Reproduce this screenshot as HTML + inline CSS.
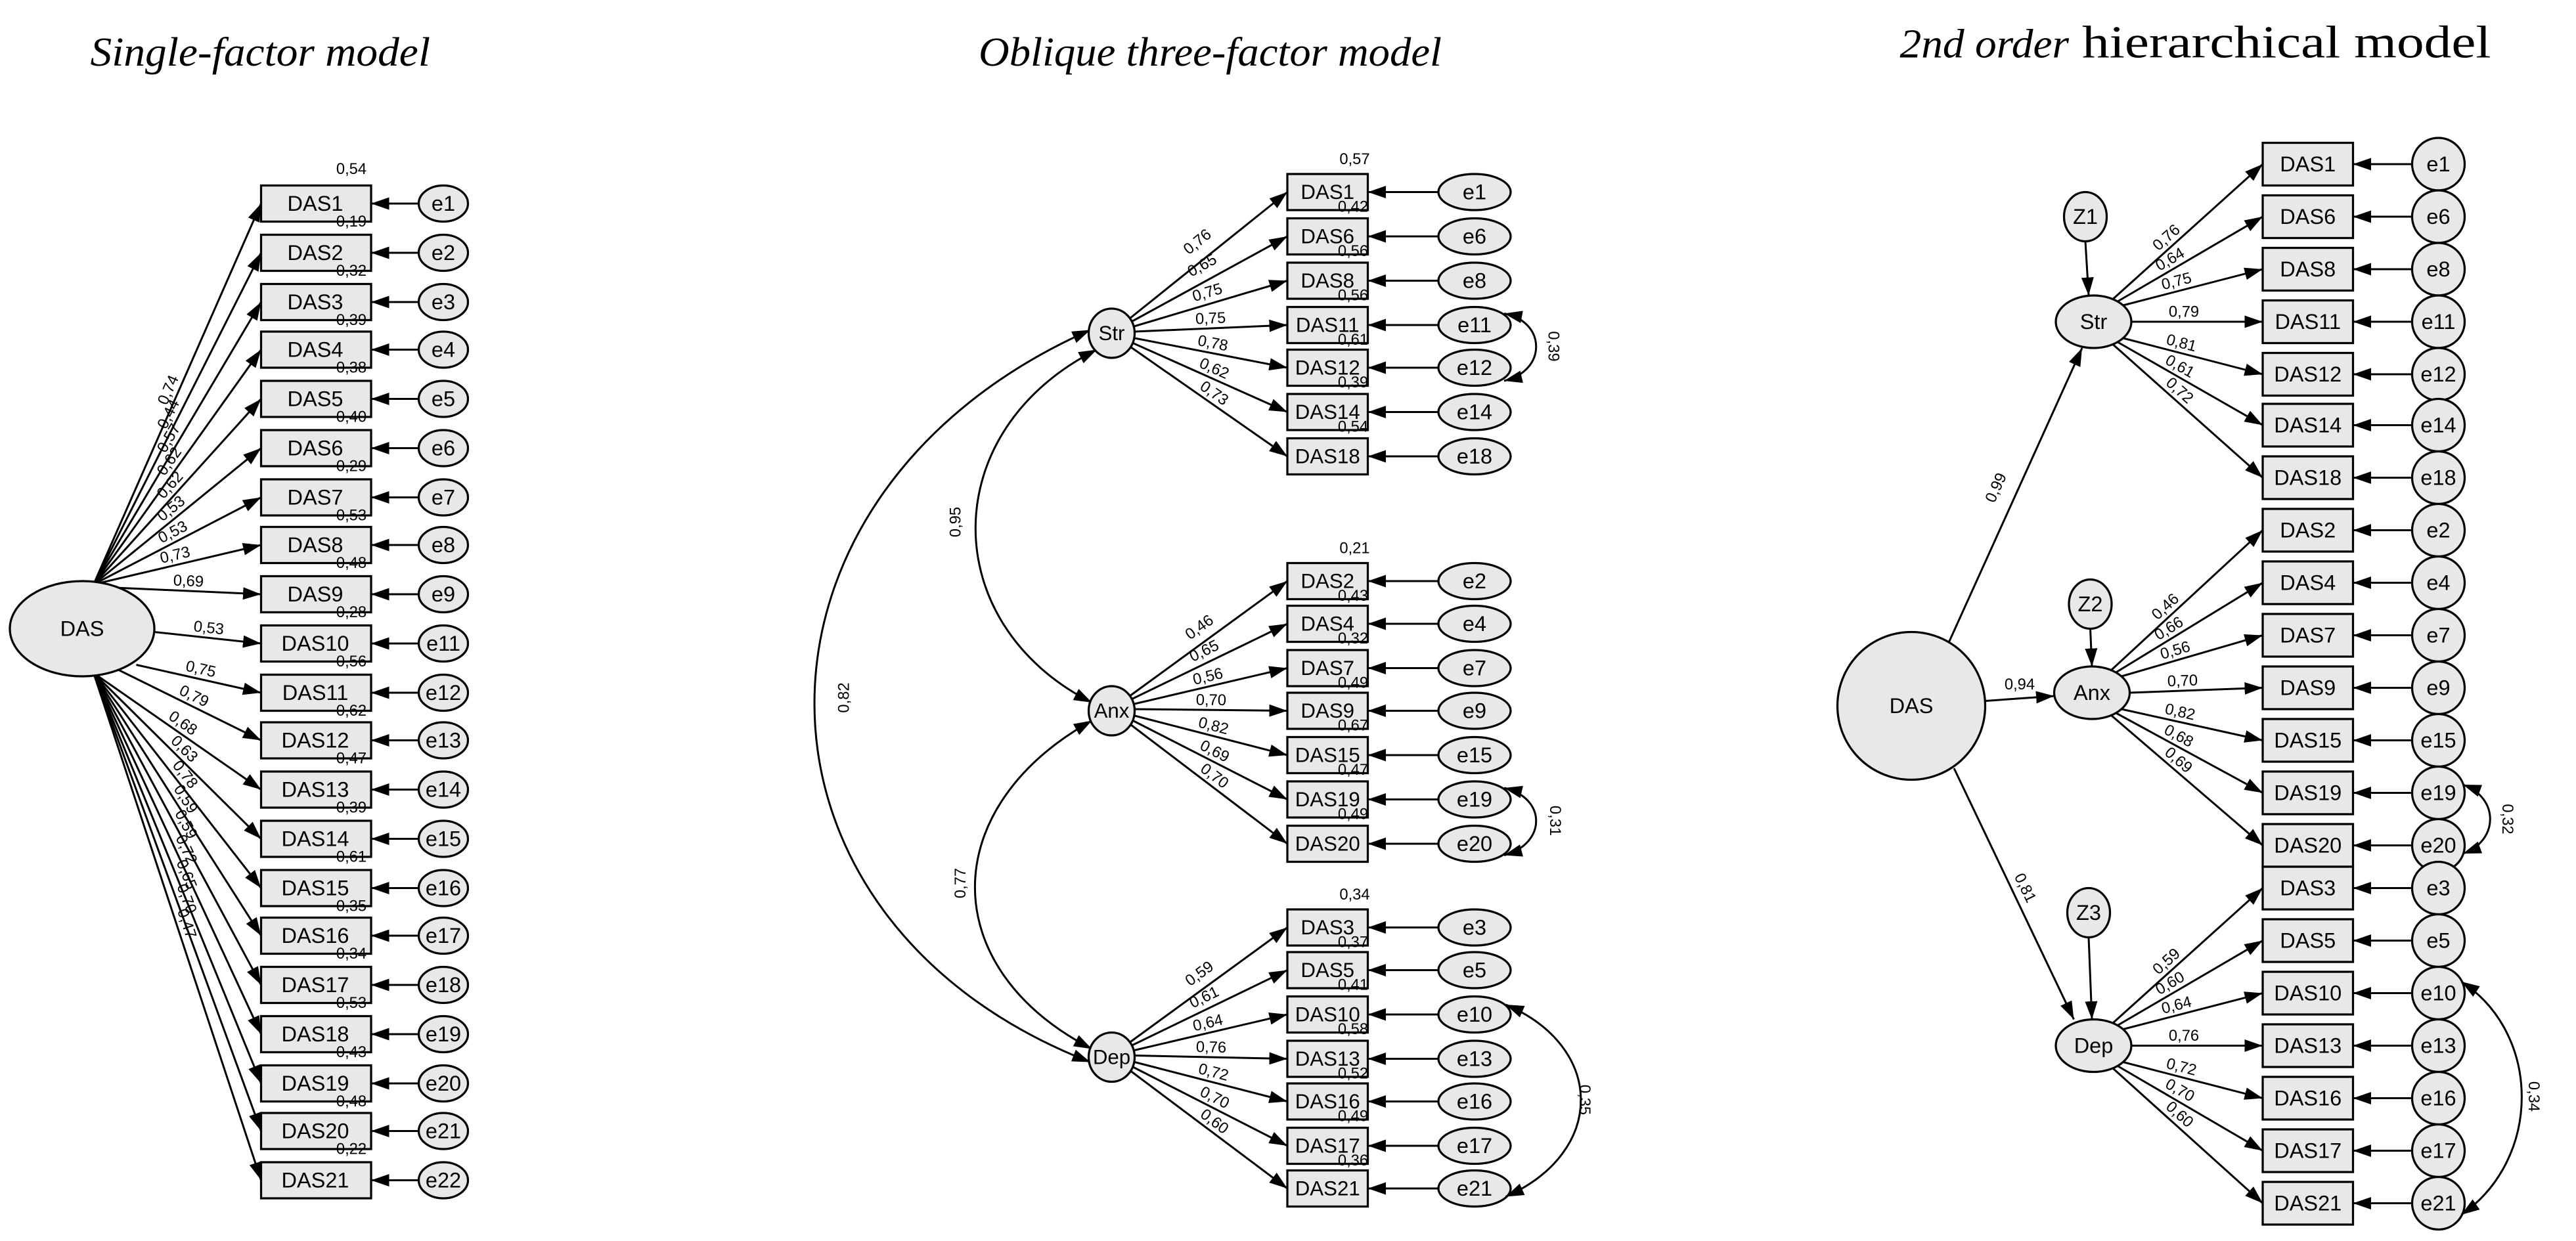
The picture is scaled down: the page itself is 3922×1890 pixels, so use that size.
<!DOCTYPE html>
<html><head><meta charset="utf-8"><style>
html,body{margin:0;padding:0;background:#fff;}
svg{display:block;}
text{font-family:"Liberation Sans",sans-serif;fill:#000;}
.t{font-family:"Liberation Serif",serif;}
.b{fill:#e8e8e8;stroke:#000;stroke-width:1.3;}
.l{stroke:#000;stroke-width:1.2;fill:none;}
.n{font-size:13px;text-anchor:middle;dominant-baseline:central;}
.n2{font-size:12.5px;text-anchor:middle;dominant-baseline:central;}
.v{font-size:9.5px;text-anchor:middle;}
</style></head><body>
<svg width="3922" height="1890" viewBox="0 0 1568.8 756" xmlns="http://www.w3.org/2000/svg">
<defs>
<marker id="a" markerUnits="userSpaceOnUse" markerWidth="12" markerHeight="8" refX="11" refY="3.8" orient="auto"><path d="M0,0 L11,3.8 L0,7.6 z" fill="#000"/></marker>
<marker id="s" markerUnits="userSpaceOnUse" markerWidth="12" markerHeight="8" refX="11" refY="3.8" orient="auto-start-reverse"><path d="M0,0 L11,3.8 L0,7.6 z" fill="#000"/></marker>
</defs>
<rect width="1568.8" height="756" fill="#fff"/>

<!-- Titles -->
<text class="t" x="55" y="40" font-size="25" font-style="italic" textLength="207" lengthAdjust="spacingAndGlyphs">Single-factor model</text>
<text class="t" x="596" y="40" font-size="25" font-style="italic" textLength="282" lengthAdjust="spacingAndGlyphs">Oblique three-factor model</text>
<text class="t" x="1157" y="35" font-size="25" font-style="italic" textLength="103" lengthAdjust="spacingAndGlyphs">2nd order</text>
<text class="t" x="1268" y="35" font-size="28" textLength="249" lengthAdjust="spacingAndGlyphs">hierarchical model</text>

<!-- ============ PANEL 1 ============ -->
<g>
<line class="l" x1="57" y1="356" x2="159" y2="124" marker-end="url(#a)"/>
<line class="l" x1="57" y1="356" x2="159" y2="154" marker-end="url(#a)"/>
<line class="l" x1="57" y1="356" x2="159" y2="184" marker-end="url(#a)"/>
<line class="l" x1="57" y1="356" x2="159" y2="213" marker-end="url(#a)"/>
<line class="l" x1="57" y1="356" x2="159" y2="243" marker-end="url(#a)"/>
<line class="l" x1="57" y1="356" x2="159" y2="273" marker-end="url(#a)"/>
<line class="l" x1="57" y1="356" x2="159" y2="303" marker-end="url(#a)"/>
<line class="l" x1="57" y1="356" x2="159" y2="332" marker-end="url(#a)"/>
<line class="l" x1="70" y1="358" x2="159" y2="362" marker-end="url(#a)"/>
<line class="l" x1="94" y1="385" x2="159" y2="392" marker-end="url(#a)"/>
<line class="l" x1="83" y1="405" x2="159" y2="422" marker-end="url(#a)"/>
<line class="l" x1="72" y1="408" x2="159" y2="451" marker-end="url(#a)"/>
<line class="l" x1="57" y1="410" x2="159" y2="481" marker-end="url(#a)"/>
<line class="l" x1="57" y1="410" x2="159" y2="511" marker-end="url(#a)"/>
<line class="l" x1="57" y1="410" x2="159" y2="541" marker-end="url(#a)"/>
<line class="l" x1="57" y1="410" x2="159" y2="570" marker-end="url(#a)"/>
<line class="l" x1="57" y1="410" x2="159" y2="600" marker-end="url(#a)"/>
<line class="l" x1="57" y1="410" x2="159" y2="630" marker-end="url(#a)"/>
<line class="l" x1="57" y1="410" x2="159" y2="660" marker-end="url(#a)"/>
<line class="l" x1="57" y1="410" x2="159" y2="689" marker-end="url(#a)"/>
<line class="l" x1="57" y1="410" x2="159" y2="719" marker-end="url(#a)"/>
<ellipse class="b" cx="50" cy="383" rx="44" ry="29"/>
<text class="n" x="50" y="383">DAS</text>
<!-- loadings -->
<g class="v" font-size="9.5">
<text class="v" transform="translate(108,240) rotate(-66.3)" y="-3">0,74</text>
<text class="v" transform="translate(108,255) rotate(-63.2)" y="-3">0,44</text>
<text class="v" transform="translate(108,270) rotate(-59.3)" y="-3">0,57</text>
<text class="v" transform="translate(108,284.5) rotate(-54.5)" y="-3">0,62</text>
<text class="v" transform="translate(108,299.5) rotate(-47.9)" y="-3">0,62</text>
<text class="v" transform="translate(108,314.5) rotate(-39.1)" y="-3">0,53</text>
<text class="v" transform="translate(108,329.5) rotate(-27.5)" y="-3">0,53</text>
<text class="v" transform="translate(108,344) rotate(-13.2)" y="-3">0,73</text>
<text class="v" transform="translate(114.5,360) rotate(2.6)" y="-3">0,69</text>
<text class="v" transform="translate(126.5,388.5) rotate(6.1)" y="-3">0,53</text>
<text class="v" transform="translate(121,413.5) rotate(12.6)" y="-3">0,75</text>
<text class="v" transform="translate(115.5,429.5) rotate(26.3)" y="-3">0,79</text>
<text class="v" transform="translate(108,445.5) rotate(34.8)" y="-3">0,68</text>
<text class="v" transform="translate(108,460.5) rotate(44.7)" y="-3">0,63</text>
<text class="v" transform="translate(108,475.5) rotate(52.1)" y="-3">0,78</text>
<text class="v" transform="translate(108,490) rotate(57.5)" y="-3">0,59</text>
<text class="v" transform="translate(108,505) rotate(61.8)" y="-3">0,59</text>
<text class="v" transform="translate(108,520) rotate(65.1)" y="-3">0,72</text>
<text class="v" transform="translate(108,535) rotate(67.8)" y="-3">0,65</text>
<text class="v" transform="translate(108,549.5) rotate(69.9)" y="-3">0,70</text>
<text class="v" transform="translate(108,564.5) rotate(71.7)" y="-3">0,47</text>
</g>
<!-- boxes -->
<g>
<rect class="b" x="159" y="113" width="67" height="22"/><text class="n" x="192" y="124">DAS1</text>
<rect class="b" x="159" y="143" width="67" height="22"/><text class="n" x="192" y="154">DAS2</text>
<rect class="b" x="159" y="173" width="67" height="22"/><text class="n" x="192" y="184">DAS3</text>
<rect class="b" x="159" y="202" width="67" height="22"/><text class="n" x="192" y="213">DAS4</text>
<rect class="b" x="159" y="232" width="67" height="22"/><text class="n" x="192" y="243">DAS5</text>
<rect class="b" x="159" y="262" width="67" height="22"/><text class="n" x="192" y="273">DAS6</text>
<rect class="b" x="159" y="292" width="67" height="22"/><text class="n" x="192" y="303">DAS7</text>
<rect class="b" x="159" y="321" width="67" height="22"/><text class="n" x="192" y="332">DAS8</text>
<rect class="b" x="159" y="351" width="67" height="22"/><text class="n" x="192" y="362">DAS9</text>
<rect class="b" x="159" y="381" width="67" height="22"/><text class="n" x="192" y="392">DAS10</text>
<rect class="b" x="159" y="411" width="67" height="22"/><text class="n" x="192" y="422">DAS11</text>
<rect class="b" x="159" y="440" width="67" height="22"/><text class="n" x="192" y="451">DAS12</text>
<rect class="b" x="159" y="470" width="67" height="22"/><text class="n" x="192" y="481">DAS13</text>
<rect class="b" x="159" y="500" width="67" height="22"/><text class="n" x="192" y="511">DAS14</text>
<rect class="b" x="159" y="530" width="67" height="22"/><text class="n" x="192" y="541">DAS15</text>
<rect class="b" x="159" y="559" width="67" height="22"/><text class="n" x="192" y="570">DAS16</text>
<rect class="b" x="159" y="589" width="67" height="22"/><text class="n" x="192" y="600">DAS17</text>
<rect class="b" x="159" y="619" width="67" height="22"/><text class="n" x="192" y="630">DAS18</text>
<rect class="b" x="159" y="649" width="67" height="22"/><text class="n" x="192" y="660">DAS19</text>
<rect class="b" x="159" y="678" width="67" height="22"/><text class="n" x="192" y="689">DAS20</text>
<rect class="b" x="159" y="708" width="67" height="22"/><text class="n" x="192" y="719">DAS21</text>
</g>
<!-- residuals -->
<text class="v" x="214" y="106">0,54</text>
<text class="v" x="214" y="138">0,19</text>
<text class="v" x="214" y="168">0,32</text>
<text class="v" x="214" y="198">0,39</text>
<text class="v" x="214" y="227">0,38</text>
<text class="v" x="214" y="257">0,40</text>
<text class="v" x="214" y="287">0,29</text>
<text class="v" x="214" y="317">0,53</text>
<text class="v" x="214" y="346">0,48</text>
<text class="v" x="214" y="376">0,28</text>
<text class="v" x="214" y="406">0,56</text>
<text class="v" x="214" y="436">0,62</text>
<text class="v" x="214" y="465">0,47</text>
<text class="v" x="214" y="495">0,39</text>
<text class="v" x="214" y="525">0,61</text>
<text class="v" x="214" y="555">0,35</text>
<text class="v" x="214" y="584">0,34</text>
<text class="v" x="214" y="614">0,53</text>
<text class="v" x="214" y="644">0,43</text>
<text class="v" x="214" y="674">0,48</text>
<text class="v" x="214" y="703">0,22</text>
<!-- errors -->
<g>
<line class="l" x1="255" y1="124" x2="226" y2="124" marker-end="url(#a)"/><ellipse class="b" cx="270" cy="124" rx="15" ry="11"/><text class="n" x="270" y="124">e1</text>
<line class="l" x1="255" y1="154" x2="226" y2="154" marker-end="url(#a)"/><ellipse class="b" cx="270" cy="154" rx="15" ry="11"/><text class="n" x="270" y="154">e2</text>
<line class="l" x1="255" y1="184" x2="226" y2="184" marker-end="url(#a)"/><ellipse class="b" cx="270" cy="184" rx="15" ry="11"/><text class="n" x="270" y="184">e3</text>
<line class="l" x1="255" y1="213" x2="226" y2="213" marker-end="url(#a)"/><ellipse class="b" cx="270" cy="213" rx="15" ry="11"/><text class="n" x="270" y="213">e4</text>
<line class="l" x1="255" y1="243" x2="226" y2="243" marker-end="url(#a)"/><ellipse class="b" cx="270" cy="243" rx="15" ry="11"/><text class="n" x="270" y="243">e5</text>
<line class="l" x1="255" y1="273" x2="226" y2="273" marker-end="url(#a)"/><ellipse class="b" cx="270" cy="273" rx="15" ry="11"/><text class="n" x="270" y="273">e6</text>
<line class="l" x1="255" y1="303" x2="226" y2="303" marker-end="url(#a)"/><ellipse class="b" cx="270" cy="303" rx="15" ry="11"/><text class="n" x="270" y="303">e7</text>
<line class="l" x1="255" y1="332" x2="226" y2="332" marker-end="url(#a)"/><ellipse class="b" cx="270" cy="332" rx="15" ry="11"/><text class="n" x="270" y="332">e8</text>
<line class="l" x1="255" y1="362" x2="226" y2="362" marker-end="url(#a)"/><ellipse class="b" cx="270" cy="362" rx="15" ry="11"/><text class="n" x="270" y="362">e9</text>
<line class="l" x1="255" y1="392" x2="226" y2="392" marker-end="url(#a)"/><ellipse class="b" cx="270" cy="392" rx="15" ry="11"/><text class="n" x="270" y="392">e11</text>
<line class="l" x1="255" y1="422" x2="226" y2="422" marker-end="url(#a)"/><ellipse class="b" cx="270" cy="422" rx="15" ry="11"/><text class="n" x="270" y="422">e12</text>
<line class="l" x1="255" y1="451" x2="226" y2="451" marker-end="url(#a)"/><ellipse class="b" cx="270" cy="451" rx="15" ry="11"/><text class="n" x="270" y="451">e13</text>
<line class="l" x1="255" y1="481" x2="226" y2="481" marker-end="url(#a)"/><ellipse class="b" cx="270" cy="481" rx="15" ry="11"/><text class="n" x="270" y="481">e14</text>
<line class="l" x1="255" y1="511" x2="226" y2="511" marker-end="url(#a)"/><ellipse class="b" cx="270" cy="511" rx="15" ry="11"/><text class="n" x="270" y="511">e15</text>
<line class="l" x1="255" y1="541" x2="226" y2="541" marker-end="url(#a)"/><ellipse class="b" cx="270" cy="541" rx="15" ry="11"/><text class="n" x="270" y="541">e16</text>
<line class="l" x1="255" y1="570" x2="226" y2="570" marker-end="url(#a)"/><ellipse class="b" cx="270" cy="570" rx="15" ry="11"/><text class="n" x="270" y="570">e17</text>
<line class="l" x1="255" y1="600" x2="226" y2="600" marker-end="url(#a)"/><ellipse class="b" cx="270" cy="600" rx="15" ry="11"/><text class="n" x="270" y="600">e18</text>
<line class="l" x1="255" y1="630" x2="226" y2="630" marker-end="url(#a)"/><ellipse class="b" cx="270" cy="630" rx="15" ry="11"/><text class="n" x="270" y="630">e19</text>
<line class="l" x1="255" y1="660" x2="226" y2="660" marker-end="url(#a)"/><ellipse class="b" cx="270" cy="660" rx="15" ry="11"/><text class="n" x="270" y="660">e20</text>
<line class="l" x1="255" y1="689" x2="226" y2="689" marker-end="url(#a)"/><ellipse class="b" cx="270" cy="689" rx="15" ry="11"/><text class="n" x="270" y="689">e21</text>
<line class="l" x1="255" y1="719" x2="226" y2="719" marker-end="url(#a)"/><ellipse class="b" cx="270" cy="719" rx="15" ry="11"/><text class="n" x="270" y="719">e22</text>
</g>
</g>

<!-- ============ PANEL 2 ============ -->
<g>
<!-- factor covariances -->
<path class="l" d="M668,213 C570,262 570,380 665,428" marker-start="url(#s)" marker-end="url(#s)"/>
<path class="l" d="M665,439 C570,492 570,590 665,639" marker-start="url(#s)" marker-end="url(#s)"/>
<path class="l" d="M664,201 C440,300 440,560 664,647" marker-start="url(#s)" marker-end="url(#s)"/>
<text class="v" transform="translate(585,318) rotate(-90)">0,95</text>
<text class="v" transform="translate(588,538) rotate(-90)">0,77</text>
<text class="v" transform="translate(517,425) rotate(-90)">0,82</text>
<!-- loadings Str -->
<line class="l" x1="688" y1="194" x2="784" y2="117" marker-end="url(#a)"/>
<line class="l" x1="689" y1="196" x2="784" y2="144" marker-end="url(#a)"/>
<line class="l" x1="690" y1="199" x2="784" y2="171" marker-end="url(#a)"/>
<line class="l" x1="691" y1="202" x2="784" y2="198" marker-end="url(#a)"/>
<line class="l" x1="691" y1="206" x2="784" y2="224" marker-end="url(#a)"/>
<line class="l" x1="690" y1="209" x2="784" y2="251" marker-end="url(#a)"/>
<line class="l" x1="688" y1="211" x2="784" y2="278" marker-end="url(#a)"/>
<text class="v" transform="translate(733,152) rotate(-38.7)" y="-3">0,76</text>
<text class="v" transform="translate(735,167) rotate(-28.7)" y="-3">0,65</text>
<text class="v" transform="translate(737,184) rotate(-16.6)" y="-3">0,75</text>
<text class="v" transform="translate(737.5,200) rotate(-2.5)" y="-3">0,75</text>
<text class="v" transform="translate(737.5,215) rotate(11)" y="-3">0,78</text>
<text class="v" transform="translate(737,230) rotate(24)" y="-3">0,62</text>
<text class="v" transform="translate(736,244.5) rotate(34.9)" y="-3">0,73</text>
<!-- loadings Anx -->
<line class="l" x1="688" y1="424" x2="784" y2="354" marker-end="url(#a)"/>
<line class="l" x1="689" y1="426" x2="784" y2="380" marker-end="url(#a)"/>
<line class="l" x1="690" y1="429" x2="784" y2="407" marker-end="url(#a)"/>
<line class="l" x1="691" y1="432" x2="784" y2="433" marker-end="url(#a)"/>
<line class="l" x1="691" y1="436" x2="784" y2="460" marker-end="url(#a)"/>
<line class="l" x1="690" y1="439" x2="784" y2="487" marker-end="url(#a)"/>
<line class="l" x1="688" y1="441" x2="784" y2="514" marker-end="url(#a)"/>
<text class="v" transform="translate(734,387) rotate(-36.1)" y="-3">0,46</text>
<text class="v" transform="translate(736,402) rotate(-25.8)" y="-3">0,65</text>
<text class="v" transform="translate(737,418) rotate(-13.2)" y="-3">0,56</text>
<text class="v" transform="translate(737.5,432.5) rotate(0.6)" y="-3">0,70</text>
<text class="v" transform="translate(737.5,448) rotate(14.5)" y="-3">0,82</text>
<text class="v" transform="translate(737,463) rotate(27)" y="-3">0,69</text>
<text class="v" transform="translate(736,477.5) rotate(37.3)" y="-3">0,70</text>
<!-- loadings Dep -->
<line class="l" x1="688" y1="635" x2="784" y2="565" marker-end="url(#a)"/>
<line class="l" x1="689" y1="637" x2="784" y2="591" marker-end="url(#a)"/>
<line class="l" x1="690" y1="640" x2="784" y2="618" marker-end="url(#a)"/>
<line class="l" x1="691" y1="643" x2="784" y2="645" marker-end="url(#a)"/>
<line class="l" x1="691" y1="647" x2="784" y2="671" marker-end="url(#a)"/>
<line class="l" x1="690" y1="650" x2="784" y2="698" marker-end="url(#a)"/>
<line class="l" x1="688" y1="652" x2="784" y2="724" marker-end="url(#a)"/>
<text class="v" transform="translate(734,598) rotate(-36.1)" y="-3">0,59</text>
<text class="v" transform="translate(736,613) rotate(-25.8)" y="-3">0,61</text>
<text class="v" transform="translate(737,629) rotate(-13.2)" y="-3">0,64</text>
<text class="v" transform="translate(737.5,644) rotate(1.2)" y="-3">0,76</text>
<text class="v" transform="translate(737.5,659) rotate(14.5)" y="-3">0,72</text>
<text class="v" transform="translate(737,674) rotate(27)" y="-3">0,70</text>
<text class="v" transform="translate(736,688) rotate(36.9)" y="-3">0,60</text>
<!-- factors -->
<ellipse class="b" cx="677" cy="203" rx="14" ry="15"/><text class="n2" x="677" y="203">Str</text>
<ellipse class="b" cx="677" cy="433" rx="14" ry="15"/><text class="n2" x="677" y="433">Anx</text>
<ellipse class="b" cx="677" cy="644" rx="14" ry="15"/><text class="n2" x="677" y="644">Dep</text>
<!-- boxes & errors -->
<g>
<rect class="b" x="784" y="106" width="49" height="22"/><text class="n2" x="808.5" y="117">DAS1</text>
<rect class="b" x="784" y="133" width="49" height="22"/><text class="n2" x="808.5" y="144">DAS6</text>
<rect class="b" x="784" y="160" width="49" height="22"/><text class="n2" x="808.5" y="171">DAS8</text>
<rect class="b" x="784" y="187" width="49" height="22"/><text class="n2" x="808.5" y="198">DAS11</text>
<rect class="b" x="784" y="213" width="49" height="22"/><text class="n2" x="808.5" y="224">DAS12</text>
<rect class="b" x="784" y="240" width="49" height="22"/><text class="n2" x="808.5" y="251">DAS14</text>
<rect class="b" x="784" y="267" width="49" height="22"/><text class="n2" x="808.5" y="278">DAS18</text>
<rect class="b" x="784" y="343" width="49" height="22"/><text class="n2" x="808.5" y="354">DAS2</text>
<rect class="b" x="784" y="369" width="49" height="22"/><text class="n2" x="808.5" y="380">DAS4</text>
<rect class="b" x="784" y="396" width="49" height="22"/><text class="n2" x="808.5" y="407">DAS7</text>
<rect class="b" x="784" y="422" width="49" height="22"/><text class="n2" x="808.5" y="433">DAS9</text>
<rect class="b" x="784" y="449" width="49" height="22"/><text class="n2" x="808.5" y="460">DAS15</text>
<rect class="b" x="784" y="476" width="49" height="22"/><text class="n2" x="808.5" y="487">DAS19</text>
<rect class="b" x="784" y="503" width="49" height="22"/><text class="n2" x="808.5" y="514">DAS20</text>
<rect class="b" x="784" y="554" width="49" height="22"/><text class="n2" x="808.5" y="565">DAS3</text>
<rect class="b" x="784" y="580" width="49" height="22"/><text class="n2" x="808.5" y="591">DAS5</text>
<rect class="b" x="784" y="607" width="49" height="22"/><text class="n2" x="808.5" y="618">DAS10</text>
<rect class="b" x="784" y="634" width="49" height="22"/><text class="n2" x="808.5" y="645">DAS13</text>
<rect class="b" x="784" y="660" width="49" height="22"/><text class="n2" x="808.5" y="671">DAS16</text>
<rect class="b" x="784" y="687" width="49" height="22"/><text class="n2" x="808.5" y="698">DAS17</text>
<rect class="b" x="784" y="713" width="49" height="22"/><text class="n2" x="808.5" y="724">DAS21</text>
</g>
<g>
<text class="v" x="825" y="100">0,57</text>
<text class="v" x="824" y="129">0,42</text>
<text class="v" x="824" y="156">0,56</text>
<text class="v" x="824" y="183">0,56</text>
<text class="v" x="824" y="210">0,61</text>
<text class="v" x="824" y="236">0,39</text>
<text class="v" x="824" y="263">0,54</text>
<text class="v" x="825" y="337">0,21</text>
<text class="v" x="824" y="366">0,43</text>
<text class="v" x="824" y="392">0,32</text>
<text class="v" x="824" y="419">0,49</text>
<text class="v" x="824" y="445">0,67</text>
<text class="v" x="824" y="472">0,47</text>
<text class="v" x="824" y="499">0,49</text>
<text class="v" x="825" y="548">0,34</text>
<text class="v" x="824" y="577">0,37</text>
<text class="v" x="824" y="603">0,41</text>
<text class="v" x="824" y="630">0,58</text>
<text class="v" x="824" y="657">0,52</text>
<text class="v" x="824" y="683">0,49</text>
<text class="v" x="824" y="710">0,36</text>
</g>
<g>
<line class="l" x1="876" y1="117" x2="833" y2="117" marker-end="url(#a)"/><ellipse class="b" cx="898" cy="117" rx="22" ry="11"/><text class="n" x="898" y="117">e1</text>
<line class="l" x1="876" y1="144" x2="833" y2="144" marker-end="url(#a)"/><ellipse class="b" cx="898" cy="144" rx="22" ry="11"/><text class="n" x="898" y="144">e6</text>
<line class="l" x1="876" y1="171" x2="833" y2="171" marker-end="url(#a)"/><ellipse class="b" cx="898" cy="171" rx="22" ry="11"/><text class="n" x="898" y="171">e8</text>
<line class="l" x1="876" y1="198" x2="833" y2="198" marker-end="url(#a)"/><ellipse class="b" cx="898" cy="198" rx="22" ry="11"/><text class="n" x="898" y="198">e11</text>
<line class="l" x1="876" y1="224" x2="833" y2="224" marker-end="url(#a)"/><ellipse class="b" cx="898" cy="224" rx="22" ry="11"/><text class="n" x="898" y="224">e12</text>
<line class="l" x1="876" y1="251" x2="833" y2="251" marker-end="url(#a)"/><ellipse class="b" cx="898" cy="251" rx="22" ry="11"/><text class="n" x="898" y="251">e14</text>
<line class="l" x1="876" y1="278" x2="833" y2="278" marker-end="url(#a)"/><ellipse class="b" cx="898" cy="278" rx="22" ry="11"/><text class="n" x="898" y="278">e18</text>
<line class="l" x1="876" y1="354" x2="833" y2="354" marker-end="url(#a)"/><ellipse class="b" cx="898" cy="354" rx="22" ry="11"/><text class="n" x="898" y="354">e2</text>
<line class="l" x1="876" y1="380" x2="833" y2="380" marker-end="url(#a)"/><ellipse class="b" cx="898" cy="380" rx="22" ry="11"/><text class="n" x="898" y="380">e4</text>
<line class="l" x1="876" y1="407" x2="833" y2="407" marker-end="url(#a)"/><ellipse class="b" cx="898" cy="407" rx="22" ry="11"/><text class="n" x="898" y="407">e7</text>
<line class="l" x1="876" y1="433" x2="833" y2="433" marker-end="url(#a)"/><ellipse class="b" cx="898" cy="433" rx="22" ry="11"/><text class="n" x="898" y="433">e9</text>
<line class="l" x1="876" y1="460" x2="833" y2="460" marker-end="url(#a)"/><ellipse class="b" cx="898" cy="460" rx="22" ry="11"/><text class="n" x="898" y="460">e15</text>
<line class="l" x1="876" y1="487" x2="833" y2="487" marker-end="url(#a)"/><ellipse class="b" cx="898" cy="487" rx="22" ry="11"/><text class="n" x="898" y="487">e19</text>
<line class="l" x1="876" y1="514" x2="833" y2="514" marker-end="url(#a)"/><ellipse class="b" cx="898" cy="514" rx="22" ry="11"/><text class="n" x="898" y="514">e20</text>
<line class="l" x1="876" y1="565" x2="833" y2="565" marker-end="url(#a)"/><ellipse class="b" cx="898" cy="565" rx="22" ry="11"/><text class="n" x="898" y="565">e3</text>
<line class="l" x1="876" y1="591" x2="833" y2="591" marker-end="url(#a)"/><ellipse class="b" cx="898" cy="591" rx="22" ry="11"/><text class="n" x="898" y="591">e5</text>
<line class="l" x1="876" y1="618" x2="833" y2="618" marker-end="url(#a)"/><ellipse class="b" cx="898" cy="618" rx="22" ry="11"/><text class="n" x="898" y="618">e10</text>
<line class="l" x1="876" y1="645" x2="833" y2="645" marker-end="url(#a)"/><ellipse class="b" cx="898" cy="645" rx="22" ry="11"/><text class="n" x="898" y="645">e13</text>
<line class="l" x1="876" y1="671" x2="833" y2="671" marker-end="url(#a)"/><ellipse class="b" cx="898" cy="671" rx="22" ry="11"/><text class="n" x="898" y="671">e16</text>
<line class="l" x1="876" y1="698" x2="833" y2="698" marker-end="url(#a)"/><ellipse class="b" cx="898" cy="698" rx="22" ry="11"/><text class="n" x="898" y="698">e17</text>
<line class="l" x1="876" y1="724" x2="833" y2="724" marker-end="url(#a)"/><ellipse class="b" cx="898" cy="724" rx="22" ry="11"/><text class="n" x="898" y="724">e21</text>
</g>
<!-- error covariances -->
<path class="l" d="M916,191 C942,196 942,226 916,232" marker-start="url(#s)" marker-end="url(#s)"/>
<text class="v" transform="translate(943,211) rotate(90)">0,39</text>
<path class="l" d="M916,480 C942,486 942,514 916,521" marker-start="url(#s)" marker-end="url(#s)"/>
<text class="v" transform="translate(944,500) rotate(90)">0,31</text>
<path class="l" d="M917,612 C978,638 978,702 917,729" marker-start="url(#s)" marker-end="url(#s)"/>
<text class="v" transform="translate(962,670) rotate(90)">0,35</text>
</g>

<!-- ============ PANEL 3 ============ -->
<g>
<!-- second-order paths -->
<line class="l" x1="1187" y1="391" x2="1268" y2="212" marker-end="url(#a)"/>
<line class="l" x1="1209" y1="427" x2="1251" y2="424" marker-end="url(#a)"/>
<line class="l" x1="1190" y1="468" x2="1263" y2="621" marker-end="url(#a)"/>
<text class="v" transform="translate(1222,300) rotate(-65.7)" y="-4">0,99</text>
<text class="v" x="1230" y="420">0,94</text>
<text class="v" transform="translate(1227,544) rotate(64)" y="-4">0,81</text>
<!-- disturbances -->
<line class="l" x1="1270" y1="147" x2="1272" y2="180" marker-end="url(#a)"/>
<line class="l" x1="1273" y1="383" x2="1274" y2="406" marker-end="url(#a)"/>
<line class="l" x1="1272" y1="571" x2="1274" y2="621" marker-end="url(#a)"/>
<ellipse class="b" cx="1270" cy="132" rx="13" ry="15"/><text class="n" x="1270" y="132">Z1</text>
<ellipse class="b" cx="1273" cy="368" rx="13" ry="15"/><text class="n" x="1273" y="368">Z2</text>
<ellipse class="b" cx="1272" cy="556" rx="13" ry="15"/><text class="n" x="1272" y="556">Z3</text>
<!-- loadings Str -->
<line class="l" x1="1287" y1="182" x2="1378" y2="100" marker-end="url(#a)"/>
<line class="l" x1="1289" y1="184" x2="1378" y2="132" marker-end="url(#a)"/>
<line class="l" x1="1293" y1="186" x2="1378" y2="164" marker-end="url(#a)"/>
<line class="l" x1="1298" y1="196" x2="1378" y2="196" marker-end="url(#a)"/>
<line class="l" x1="1293" y1="206" x2="1378" y2="228" marker-end="url(#a)"/>
<line class="l" x1="1289" y1="208" x2="1378" y2="259" marker-end="url(#a)"/>
<line class="l" x1="1287" y1="210" x2="1378" y2="291" marker-end="url(#a)"/>
<text class="v" transform="translate(1323.4,149.2) rotate(-42)" y="-3">0,76</text>
<text class="v" transform="translate(1324.6,163.2) rotate(-30.3)" y="-3">0,64</text>
<text class="v" transform="translate(1327,177.2) rotate(-14.5)" y="-3">0,75</text>
<text class="v" transform="translate(1330,196)" y="-3">0,79</text>
<text class="v" transform="translate(1327,214.8) rotate(14.5)" y="-3">0,81</text>
<text class="v" transform="translate(1324.6,228.4) rotate(29.8)" y="-3">0,61</text>
<text class="v" transform="translate(1323.4,242.4) rotate(41.7)" y="-3">0,72</text>
<!-- loadings Anx -->
<line class="l" x1="1286" y1="408" x2="1378" y2="323" marker-end="url(#a)"/>
<line class="l" x1="1288" y1="410" x2="1378" y2="355" marker-end="url(#a)"/>
<line class="l" x1="1292" y1="412" x2="1378" y2="387" marker-end="url(#a)"/>
<line class="l" x1="1297" y1="422" x2="1378" y2="419" marker-end="url(#a)"/>
<line class="l" x1="1292" y1="432" x2="1378" y2="451" marker-end="url(#a)"/>
<line class="l" x1="1288" y1="434" x2="1378" y2="483" marker-end="url(#a)"/>
<line class="l" x1="1286" y1="436" x2="1378" y2="515" marker-end="url(#a)"/>
<text class="v" transform="translate(1322.8,374) rotate(-42.7)" y="-3">0,46</text>
<text class="v" transform="translate(1324,388) rotate(-31.4)" y="-3">0,66</text>
<text class="v" transform="translate(1326.4,402) rotate(-16.2)" y="-3">0,56</text>
<text class="v" transform="translate(1329.4,420.8) rotate(-2.1)" y="-3">0,70</text>
<text class="v" transform="translate(1326.4,439.6) rotate(12.5)" y="-3">0,82</text>
<text class="v" transform="translate(1324,453.6) rotate(28.6)" y="-3">0,68</text>
<text class="v" transform="translate(1322.8,467.6) rotate(40.7)" y="-3">0,69</text>
<!-- loadings Dep -->
<line class="l" x1="1287" y1="623" x2="1378" y2="541" marker-end="url(#a)"/>
<line class="l" x1="1289" y1="625" x2="1378" y2="573" marker-end="url(#a)"/>
<line class="l" x1="1293" y1="627" x2="1378" y2="605" marker-end="url(#a)"/>
<line class="l" x1="1298" y1="637" x2="1378" y2="637" marker-end="url(#a)"/>
<line class="l" x1="1293" y1="647" x2="1378" y2="669" marker-end="url(#a)"/>
<line class="l" x1="1289" y1="649" x2="1378" y2="701" marker-end="url(#a)"/>
<line class="l" x1="1287" y1="651" x2="1378" y2="733" marker-end="url(#a)"/>
<text class="v" transform="translate(1323.4,590.2) rotate(-42)" y="-3">0,59</text>
<text class="v" transform="translate(1324.6,604.2) rotate(-30.3)" y="-3">0,60</text>
<text class="v" transform="translate(1327,618.2) rotate(-14.5)" y="-3">0,64</text>
<text class="v" transform="translate(1330,637)" y="-3">0,76</text>
<text class="v" transform="translate(1327,655.8) rotate(14.5)" y="-3">0,72</text>
<text class="v" transform="translate(1324.6,669.4) rotate(29.8)" y="-3">0,70</text>
<text class="v" transform="translate(1323.4,683.4) rotate(41.7)" y="-3">0,60</text>
<!-- latent nodes -->
<ellipse class="b" cx="1164" cy="430" rx="45" ry="45"/><text class="n" x="1164" y="430">DAS</text>
<ellipse class="b" cx="1275" cy="196" rx="23" ry="16"/><text class="n" x="1275" y="196">Str</text>
<ellipse class="b" cx="1274" cy="422" rx="23" ry="16"/><text class="n" x="1274" y="422">Anx</text>
<ellipse class="b" cx="1275" cy="637" rx="23" ry="16"/><text class="n" x="1275" y="637">Dep</text>
<!-- boxes -->
<g>
<rect class="b" x="1378" y="87" width="55" height="26"/><text class="n" x="1405.5" y="100">DAS1</text>
<rect class="b" x="1378" y="119" width="55" height="26"/><text class="n" x="1405.5" y="132">DAS6</text>
<rect class="b" x="1378" y="151" width="55" height="26"/><text class="n" x="1405.5" y="164">DAS8</text>
<rect class="b" x="1378" y="183" width="55" height="26"/><text class="n" x="1405.5" y="196">DAS11</text>
<rect class="b" x="1378" y="215" width="55" height="26"/><text class="n" x="1405.5" y="228">DAS12</text>
<rect class="b" x="1378" y="246" width="55" height="26"/><text class="n" x="1405.5" y="259">DAS14</text>
<rect class="b" x="1378" y="278" width="55" height="26"/><text class="n" x="1405.5" y="291">DAS18</text>
<rect class="b" x="1378" y="310" width="55" height="26"/><text class="n" x="1405.5" y="323">DAS2</text>
<rect class="b" x="1378" y="342" width="55" height="26"/><text class="n" x="1405.5" y="355">DAS4</text>
<rect class="b" x="1378" y="374" width="55" height="26"/><text class="n" x="1405.5" y="387">DAS7</text>
<rect class="b" x="1378" y="406" width="55" height="26"/><text class="n" x="1405.5" y="419">DAS9</text>
<rect class="b" x="1378" y="438" width="55" height="26"/><text class="n" x="1405.5" y="451">DAS15</text>
<rect class="b" x="1378" y="470" width="55" height="26"/><text class="n" x="1405.5" y="483">DAS19</text>
<rect class="b" x="1378" y="502" width="55" height="26"/><text class="n" x="1405.5" y="515">DAS20</text>
<rect class="b" x="1378" y="528" width="55" height="26"/><text class="n" x="1405.5" y="541">DAS3</text>
<rect class="b" x="1378" y="560" width="55" height="26"/><text class="n" x="1405.5" y="573">DAS5</text>
<rect class="b" x="1378" y="592" width="55" height="26"/><text class="n" x="1405.5" y="605">DAS10</text>
<rect class="b" x="1378" y="624" width="55" height="26"/><text class="n" x="1405.5" y="637">DAS13</text>
<rect class="b" x="1378" y="656" width="55" height="26"/><text class="n" x="1405.5" y="669">DAS16</text>
<rect class="b" x="1378" y="688" width="55" height="26"/><text class="n" x="1405.5" y="701">DAS17</text>
<rect class="b" x="1378" y="720" width="55" height="26"/><text class="n" x="1405.5" y="733">DAS21</text>
</g>
<g>
<line class="l" x1="1469" y1="100" x2="1433" y2="100" marker-end="url(#a)"/><circle class="b" cx="1485" cy="100" r="16"/><text class="n" x="1485" y="100">e1</text>
<line class="l" x1="1469" y1="132" x2="1433" y2="132" marker-end="url(#a)"/><circle class="b" cx="1485" cy="132" r="16"/><text class="n" x="1485" y="132">e6</text>
<line class="l" x1="1469" y1="164" x2="1433" y2="164" marker-end="url(#a)"/><circle class="b" cx="1485" cy="164" r="16"/><text class="n" x="1485" y="164">e8</text>
<line class="l" x1="1469" y1="196" x2="1433" y2="196" marker-end="url(#a)"/><circle class="b" cx="1485" cy="196" r="16"/><text class="n" x="1485" y="196">e11</text>
<line class="l" x1="1469" y1="228" x2="1433" y2="228" marker-end="url(#a)"/><circle class="b" cx="1485" cy="228" r="16"/><text class="n" x="1485" y="228">e12</text>
<line class="l" x1="1469" y1="259" x2="1433" y2="259" marker-end="url(#a)"/><circle class="b" cx="1485" cy="259" r="16"/><text class="n" x="1485" y="259">e14</text>
<line class="l" x1="1469" y1="291" x2="1433" y2="291" marker-end="url(#a)"/><circle class="b" cx="1485" cy="291" r="16"/><text class="n" x="1485" y="291">e18</text>
<line class="l" x1="1469" y1="323" x2="1433" y2="323" marker-end="url(#a)"/><circle class="b" cx="1485" cy="323" r="16"/><text class="n" x="1485" y="323">e2</text>
<line class="l" x1="1469" y1="355" x2="1433" y2="355" marker-end="url(#a)"/><circle class="b" cx="1485" cy="355" r="16"/><text class="n" x="1485" y="355">e4</text>
<line class="l" x1="1469" y1="387" x2="1433" y2="387" marker-end="url(#a)"/><circle class="b" cx="1485" cy="387" r="16"/><text class="n" x="1485" y="387">e7</text>
<line class="l" x1="1469" y1="419" x2="1433" y2="419" marker-end="url(#a)"/><circle class="b" cx="1485" cy="419" r="16"/><text class="n" x="1485" y="419">e9</text>
<line class="l" x1="1469" y1="451" x2="1433" y2="451" marker-end="url(#a)"/><circle class="b" cx="1485" cy="451" r="16"/><text class="n" x="1485" y="451">e15</text>
<line class="l" x1="1469" y1="483" x2="1433" y2="483" marker-end="url(#a)"/><circle class="b" cx="1485" cy="483" r="16"/><text class="n" x="1485" y="483">e19</text>
<line class="l" x1="1469" y1="515" x2="1433" y2="515" marker-end="url(#a)"/><circle class="b" cx="1485" cy="515" r="16"/><text class="n" x="1485" y="515">e20</text>
<line class="l" x1="1469" y1="541" x2="1433" y2="541" marker-end="url(#a)"/><circle class="b" cx="1485" cy="541" r="16"/><text class="n" x="1485" y="541">e3</text>
<line class="l" x1="1469" y1="573" x2="1433" y2="573" marker-end="url(#a)"/><circle class="b" cx="1485" cy="573" r="16"/><text class="n" x="1485" y="573">e5</text>
<line class="l" x1="1469" y1="605" x2="1433" y2="605" marker-end="url(#a)"/><circle class="b" cx="1485" cy="605" r="16"/><text class="n" x="1485" y="605">e10</text>
<line class="l" x1="1469" y1="637" x2="1433" y2="637" marker-end="url(#a)"/><circle class="b" cx="1485" cy="637" r="16"/><text class="n" x="1485" y="637">e13</text>
<line class="l" x1="1469" y1="669" x2="1433" y2="669" marker-end="url(#a)"/><circle class="b" cx="1485" cy="669" r="16"/><text class="n" x="1485" y="669">e16</text>
<line class="l" x1="1469" y1="701" x2="1433" y2="701" marker-end="url(#a)"/><circle class="b" cx="1485" cy="701" r="16"/><text class="n" x="1485" y="701">e17</text>
<line class="l" x1="1469" y1="733" x2="1433" y2="733" marker-end="url(#a)"/><circle class="b" cx="1485" cy="733" r="16"/><text class="n" x="1485" y="733">e21</text>
</g>
<path class="l" d="M1500,478 C1522,486 1522,512 1500,520" marker-start="url(#s)" marker-end="url(#s)"/>
<text class="v" transform="translate(1524,499) rotate(90)">0,32</text>
<path class="l" d="M1499,598 C1548,630 1548,706 1499,740" marker-start="url(#s)" marker-end="url(#s)"/>
<text class="v" transform="translate(1540,668) rotate(90)">0,34</text>
</g>
</svg>
</body></html>
